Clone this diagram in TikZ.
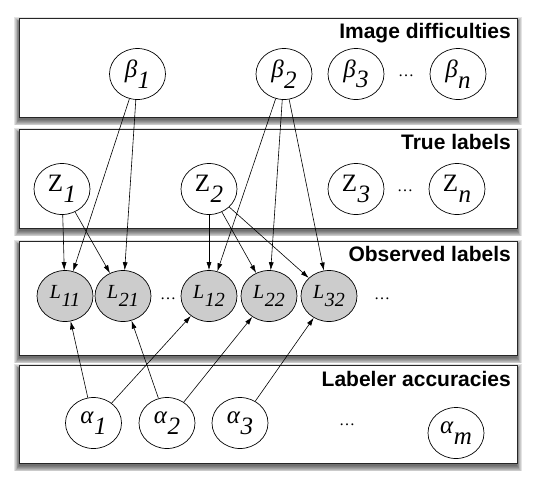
\documentclass[tikz,border=0pt]{standalone}
\usepackage{fontspec}
\setmainfont{Liberation Serif}
\newfontfamily\titlefont{Liberation Sans}
\usetikzlibrary{arrows.meta,shapes.geometric}
\newcommand{\vsub}[2]{#1\kern0.5pt\raisebox{-0.42em}{#2}}
% soft shadow layers for a panel from (x1,y1) to (x2,y2), y downwards
\newcommand{\panelshadow}[4]{%
  \foreach \s in {0,...,6}{%
    \fill[black, opacity=0.11] ({#1-\s*0.8},{#2+4-\s*0.8}) rectangle ({#3+\s*0.8},{#4+3+\s*0.9});
  }}
\begin{document}
\begin{tikzpicture}[x=1pt,y=-1pt,
  panel/.style={draw=black!85, line width=0.8pt, fill=white, minimum width=498pt, anchor=north west, inner sep=0pt},
  ptitle/.style={anchor=base east, font=\titlefont\bfseries\fontsize{21}{21}\selectfont, inner sep=0pt},
  var/.style={ellipse, draw, line width=0.7pt, minimum width=56pt, minimum height=51pt, inner sep=0pt,
    fill=white, font=\fontsize{25}{25}\selectfont\itshape},
  obs/.style={var, fill=black!20, font=\fontsize{20}{20}\selectfont\itshape},
  dotsnode/.style={font=\fontsize{16}{16}\selectfont, inner sep=0pt},
  edge/.style={-{Latex[length=8pt,width=5pt]}, line width=0.6pt}
]
\useasboundingbox (0,0) rectangle (541,491);
% panels
\panelshadow{19}{18}{517}{117}
\node[panel, minimum height=99pt] (p1) at (19,18) {};
\panelshadow{19}{129}{517}{228}
\node[panel, minimum height=99pt] (p2) at (19,129) {};
\panelshadow{19}{241}{517}{355}
\node[panel, minimum height=114pt] (p3) at (19,241) {};
\panelshadow{19}{365}{517}{463}
\node[panel, minimum height=98pt] (p4) at (19,365) {};
% titles
\node[ptitle] (t1) at (511,38) {Image difficulties};
\node[ptitle] (t2) at (511,149) {True labels};
\node[ptitle] (t3) at (511,261) {Observed labels};
\node[ptitle] (t4) at (511,386) {Labeler accuracies};
% image difficulties
\node[var] (b1) at (137.5,74) {\vsub{β}{1}};
\node[var] (b2) at (284,74) {\vsub{β}{2}};
\node[var] (b3) at (356,74) {\vsub{β}{3}};
\node[var] (bn) at (458,74) {\vsub{β}{n}};
\node[dotsnode] (d1) at (406,76) {…};
% true labels
\node[var] (z1) at (62,189) {\vsub{{\upshape Z}}{1}};
\node[var] (z2) at (209,189) {\vsub{{\upshape Z}}{2}};
\node[var] (z3) at (356,189) {\vsub{{\upshape Z}}{3}};
\node[var] (zn) at (457,189) {\vsub{{\upshape Z}}{n}};
\node[dotsnode] (d2) at (405,191) {…};
% observed labels
\node[obs] (l11) at (65,296) {\vsub{L}{11}};
\node[obs] (l21) at (123,296) {\vsub{L}{21}};
\node[obs] (l12) at (209,296) {\vsub{L}{12}};
\node[obs] (l22) at (269,296) {\vsub{L}{22}};
\node[obs] (l32) at (329,296) {\vsub{L}{32}};
\node[dotsnode] (d3) at (168,299) {…};
\node[dotsnode] (d4) at (382,299) {…};
% labeler accuracies
\node[var] (a1) at (93.5,423) {\vsub{α}{1}};
\node[var] (a2) at (167,423) {\vsub{α}{2}};
\node[var] (a3) at (240,423) {\vsub{α}{3}};
\node[var] (am) at (456,433) {\vsub{α}{m}};
\node[dotsnode] (d5) at (347,425) {…};
% edges
\draw[edge] (b1) -- (l11);
\draw[edge] (b1) -- (l21);
\draw[edge] (b2) -- (l12);
\draw[edge] (b2) -- (l22);
\draw[edge] (b2) -- (l32);
\draw[edge] (z1) -- (l11);
\draw[edge] (z1) -- (l21);
\draw[edge] (z2) -- (l12);
\draw[edge] (z2) -- (l22);
\draw[edge] (z2) -- (l32);
\draw[edge] (a1) -- (l11);
\draw[edge] (a1) -- (l12);
\draw[edge] (a2) -- (l21);
\draw[edge] (a2) -- (l22);
\draw[edge] (a3) -- (l32);
\end{tikzpicture}
\end{document}
